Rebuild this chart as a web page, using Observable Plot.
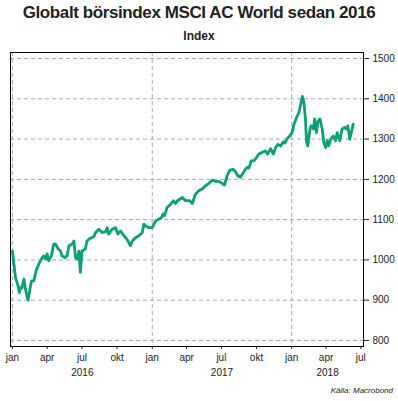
<!DOCTYPE html>
<html><head><meta charset="utf-8">
<script src="https://cdn.jsdelivr.net/npm/d3@7"></script>
<script src="https://cdn.jsdelivr.net/npm/@observablehq/plot@0.6"></script>
<style>
body{margin:0;background:#fff;font-family:"Liberation Sans",Arial,sans-serif;color:#222}
#wrap{width:398px;height:401px;overflow:hidden}
#title{height:26px;line-height:26px;text-align:center;font-weight:bold;font-size:17px;letter-spacing:-0.4px}
#sub{height:20px;line-height:20px;text-align:center;font-weight:bold;font-size:12px}
#cap{height:20px;line-height:20px;text-align:right;padding-right:5px;font-style:italic;font-size:8px}
svg{display:block}
</style></head>
<body><div id="wrap">
<div id="title">Globalt börsindex MSCI AC World sedan 2016</div>
<div id="sub">Index</div>
<div id="chart"></div>
<div id="cap">Källa: Macrobond</div>
</div>
<script>
const dates = [
"2016-01-01","2016-01-04","2016-01-09","2016-01-16","2016-01-19","2016-01-22","2016-01-26","2016-01-31",
"2016-02-04","2016-02-09","2016-02-11","2016-02-15","2016-02-20","2016-02-26","2016-03-03","2016-03-10",
"2016-03-17","2016-03-23","2016-03-28","2016-04-01","2016-04-05","2016-04-12","2016-04-18","2016-04-23",
"2016-04-30","2016-05-06","2016-05-10","2016-05-17","2016-05-23","2016-05-28","2016-06-06","2016-06-10",
"2016-06-14","2016-06-19","2016-06-23","2016-06-27","2016-07-01","2016-07-10","2016-07-14","2016-07-23",
"2016-08-01","2016-08-06","2016-08-14","2016-08-23","2016-09-01","2016-09-05","2016-09-09","2016-09-18",
"2016-09-27","2016-10-03","2016-10-10","2016-10-19","2016-10-27","2016-11-05","2016-11-10","2016-11-18",
"2016-11-27","2016-12-06","2016-12-10","2016-12-14","2016-12-23","2017-01-01","2017-01-10","2017-01-18",
"2017-01-25","2017-01-30","2017-02-02","2017-02-09","2017-02-18","2017-02-25","2017-03-03","2017-03-08",
"2017-03-21","2017-03-29","2017-04-09","2017-04-16","2017-04-24","2017-05-03","2017-05-12","2017-05-20",
"2017-05-29","2017-06-07","2017-06-16","2017-06-24","2017-07-03","2017-07-09","2017-07-16","2017-07-23",
"2017-08-01","2017-08-07","2017-08-13","2017-08-19","2017-08-25","2017-09-02","2017-09-07","2017-09-11",
"2017-09-17","2017-09-24","2017-10-01","2017-10-07","2017-10-16","2017-10-24","2017-10-30","2017-11-07",
"2017-11-14","2017-11-20","2017-11-26","2017-12-03","2017-12-10","2017-12-14","2017-12-20","2017-12-27",
"2018-01-02","2018-01-07","2018-01-14","2018-01-20","2018-01-24","2018-01-29","2018-02-02","2018-02-06",
"2018-02-09","2018-02-12","2018-02-18","2018-02-21","2018-02-27","2018-03-02","2018-03-07","2018-03-11",
"2018-03-16","2018-03-22","2018-03-26","2018-03-31","2018-04-04","2018-04-08","2018-04-13","2018-04-20",
"2018-04-26","2018-04-30","2018-05-07","2018-05-13","2018-05-19","2018-05-24","2018-05-28","2018-06-02",
"2018-06-06","2018-06-11"];
const values = [
1022,998,956,935,919,931,930,952,
928,906,900,923,948,948,973,990,
1002,1010,1002,1015,998,1010,1039,1039,
1027,1022,1010,1006,1010,1035,1040,1047,
1006,1002,1022,969,1022,1027,1047,1054,
1058,1068,1076,1068,1070,1080,1064,1076,
1080,1064,1072,1060,1051,1035,1047,1055,
1060,1068,1089,1085,1080,1080,1097,1101,
1105,1114,1110,1130,1138,1147,1140,1147,
1155,1147,1147,1140,1163,1172,1176,1184,
1190,1198,1195,1195,1190,1186,1209,1223,
1225,1219,1209,1205,1213,1225,1230,1228,
1246,1246,1254,1263,1267,1271,1263,1276,
1263,1279,1287,1283,1293,1290,1301,1308,
1316,1337,1354,1366,1383,1406,1391,1350,
1292,1283,1325,1333,1325,1350,1316,1345,
1350,1325,1292,1279,1296,1283,1300,1308,
1296,1316,1296,1325,1329,1325,1333,1300,
1316,1337];
const yTicks = [800,900,1000,1100,1200,1300,1400,1500];
const monthNames = ["jan","apr","jul","okt"];
const years = [2016,2017,2018];
const xDomain = [new Date("2015-12-27"), new Date("2018-07-08")];
const yDomain = [785,1515];

const rows = dates.map((d,i)=>({date:new Date(d), value:values[i]}));
const quarterTicks = d3.utcMonth.every(3).range(new Date("2016-01-01"), new Date("2018-07-02"));
const yearStarts = years.map(y=>new Date(Date.UTC(y,0,1)));
const yearRows = years.map(y=>{
  const a = Math.max(+new Date(Date.UTC(y,0,1)), +xDomain[0]);
  const b = Math.min(+new Date(Date.UTC(y+1,0,1)), +xDomain[1]);
  return {year:String(y), mid:new Date((a+b)/2)};
});

const chart = Plot.plot({
  width:398, height:335,
  marginTop:6, marginBottom:35, marginLeft:10, marginRight:35,
  style:{fontFamily:'"Liberation Sans",Arial,sans-serif', fontSize:"10px", color:"#222", background:"#fff"},
  x:{type:"utc", domain:xDomain},
  y:{domain:yDomain},
  marks:[
    Plot.gridY(yTicks,{stroke:"#aaa", strokeOpacity:1, strokeDasharray:"4,3"}),
    Plot.gridX(yearStarts,{stroke:"#aaa", strokeOpacity:1, strokeDasharray:"4,3"}),
    Plot.lineY(rows,{x:"date", y:"value", stroke:"#0aa078", strokeWidth:2.8, strokeLinejoin:"round"}),
    Plot.frame({stroke:"#000", strokeWidth:1}),
    Plot.axisY(yTicks,{anchor:"right", tickSize:5, tickPadding:4, tickFormat:d=>String(d), fontSize:10, label:null}),
    Plot.axisX(quarterTicks,{anchor:"bottom", tickSize:3, tickPadding:4, tickFormat:d=>monthNames[d.getUTCMonth()/3], fontSize:10, label:null}),
    Plot.text(yearRows,{x:"mid", text:"year", frameAnchor:"bottom", dy:29, fontSize:10})
  ]
});
document.getElementById("chart").appendChild(chart);
</script>
</body></html>
